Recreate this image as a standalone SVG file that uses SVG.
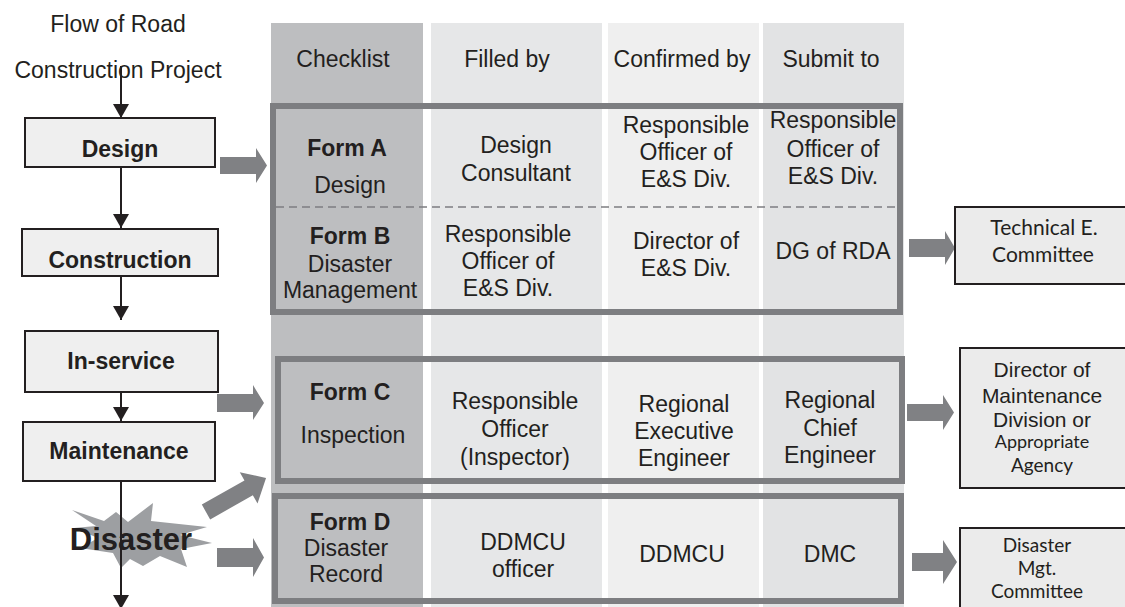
<svg xmlns="http://www.w3.org/2000/svg" width="1125" height="607" viewBox="0 0 1125 607">
<style>
text{font-family:"Liberation Sans",Arial,sans-serif;fill:#231f20;text-anchor:middle;font-size:23px}
.b{font-weight:bold}
.cal{font-family:Lato,"Liberation Sans",sans-serif;font-size:21px}
.flow{fill:#efefef;stroke:#231f20;stroke-width:2}
.frame{fill:none;stroke:#7d7e81;stroke-width:6}
.big{fill:#808184}
.line{stroke:#231f20;stroke-width:2;fill:none}
.rbox{fill:#ebebeb;stroke:#231f20;stroke-width:2}
</style>
<defs>
<marker id="ah" markerWidth="14" markerHeight="16" refX="14" refY="8" orient="auto" markerUnits="userSpaceOnUse"><path d="M0,0 L14,8 L0,16 z" fill="#231f20"/></marker>
</defs>
<rect width="1125" height="607" fill="#ffffff"/>
<g id="title">
<text x="118" y="32">Flow of Road</text>
<text x="118" y="78">Construction Project</text>
</g>
<g id="columns">
<rect x="271" y="23" width="152" height="584" fill="#bdbec0"/>
<rect x="431" y="23" width="171" height="584" fill="#e6e7e8"/>
<rect x="608" y="23" width="151" height="584" fill="#efefef"/>
<rect x="763" y="23" width="141" height="584" fill="#e2e3e4"/>
<text x="343" y="67">Checklist</text>
<text x="507" y="67">Filled by</text>
<text x="682" y="67">Confirmed by</text>
<text x="831" y="67">Submit to</text>
</g>
<g id="connectors">
<line class="line" x1="121" y1="66" x2="121" y2="118" marker-end="url(#ah)"/>
<line class="line" x1="121" y1="167" x2="121" y2="228" marker-end="url(#ah)"/>
<line class="line" x1="121" y1="276" x2="121" y2="320" marker-end="url(#ah)"/>
<line class="line" x1="121" y1="378" x2="121" y2="421" marker-end="url(#ah)"/>
<line class="line" x1="121" y1="481" x2="121" y2="609" marker-end="url(#ah)"/>
<path class="big" d="M220,157 L256,157 L256,148 L267,165.5 L256,183 L256,174 L220,174 z"/>
<path class="big" d="M217,394 L253,394 L253,385 L264,403 L253,420 L253,412 L217,412 z"/>
<path class="big" d="M217,548 L253,548 L253,538 L264,557.5 L253,577 L253,567 L217,567 z"/>
<path class="big" transform="translate(206,512) rotate(-29.5)" d="M0,-8.5 L49,-8.5 L49,-18 L69,0 L49,18 L49,8.5 L0,8.5 z"/>
<path class="big" d="M909,239 L945,239 L945,231 L955,248 L945,265 L945,257 L909,257 z"/>
<path class="big" d="M907,404 L943,404 L943,395 L954,412.5 L943,430 L943,421 L907,421 z"/>
<path class="big" d="M912,553 L943,553 L943,540 L957,562 L943,584 L943,571 L912,571 z"/>
</g>
<g id="design"><rect class="flow" x="25" y="118" width="190" height="49"/><text class="b" x="120" y="157">Design</text></g>
<g id="construction"><rect class="flow" x="22" y="229" width="196" height="47"/><text class="b" x="120" y="268">Construction</text></g>
<g id="in-service"><rect class="flow" x="25" y="331" width="193" height="61"/><text class="b" x="121" y="369">In-service</text></g>
<g id="maintenance"><rect class="flow" x="23" y="422" width="192" height="59"/><text class="b" x="119" y="459">Maintenance</text></g>
<g id="disaster">
<polygon fill="#9d9fa2" points="72,510 104,521 116,512 128,522 153,503 151,521 207,527 180,535 212,543 181,549 187,567 160,556 143,566 130,559 121,568 113,553 80,548 98,538 74,528 96,526"/>
<line class="line" x1="121" y1="500" x2="121" y2="575"/>
<text class="b" x="131" y="550" style="font-size:31px">Disaster</text>
</g>
<g id="form-ab">
<rect class="frame" x="273" y="106" width="627" height="206"/>
<line x1="276" y1="207" x2="897" y2="207" stroke="#7d7e81" stroke-width="1.5" stroke-dasharray="8,5"/>
<text class="b" x="347" y="156">Form A</text>
<text x="350" y="193">Design</text>
<text x="516" y="153">Design</text>
<text x="516" y="181">Consultant</text>
<text x="686" y="133">Responsible</text>
<text x="686" y="160">Officer of</text>
<text x="686" y="187">E&amp;S Div.</text>
<text x="833" y="128">Responsible</text>
<text x="833" y="157">Officer of</text>
<text x="833" y="184">E&amp;S Div.</text>
<text class="b" x="350" y="244">Form B</text>
<text x="350" y="272">Disaster</text>
<text x="350" y="298">Management</text>
<text x="508" y="242">Responsible</text>
<text x="508" y="269">Officer of</text>
<text x="508" y="296">E&amp;S Div.</text>
<text x="686" y="249">Director of</text>
<text x="686" y="276">E&amp;S Div.</text>
<text x="833" y="259">DG of RDA</text>
</g>
<g id="form-c">
<rect class="frame" x="278" y="359" width="624" height="122"/>
<text class="b" x="350" y="400">Form C</text>
<text x="353" y="443">Inspection</text>
<text x="515" y="409">Responsible</text>
<text x="515" y="437">Officer</text>
<text x="515" y="465">(Inspector)</text>
<text x="684" y="412">Regional</text>
<text x="684" y="439">Executive</text>
<text x="684" y="466">Engineer</text>
<text x="830" y="408">Regional</text>
<text x="830" y="436">Chief</text>
<text x="830" y="463">Engineer</text>
</g>
<g id="form-d">
<rect class="frame" x="275" y="496" width="626" height="105"/>
<text class="b" x="350" y="530">Form D</text>
<text x="346" y="556">Disaster</text>
<text x="346" y="582">Record</text>
<text x="523" y="550">DDMCU</text>
<text x="523" y="577">officer</text>
<text x="682" y="562">DDMCU</text>
<text x="830" y="562">DMC</text>
</g>
<g id="technical-committee">
<rect class="rbox" x="955" y="207" width="175" height="77"/>
<text class="cal" x="1044" y="235">Technical E.</text>
<text class="cal" x="1043" y="262">Committee</text>
</g>
<g id="director-maintenance">
<rect class="rbox" x="960" y="348" width="170" height="140"/>
<text x="1042" y="377" style="font-size:21px">Director of</text>
<text x="1042" y="403" style="font-size:21px">Maintenance</text>
<text x="1042" y="427" style="font-size:21px">Division or</text>
<text class="cal" x="1042" y="448" style="font-size:18px">Appropriate</text>
<text class="cal" x="1042" y="472" style="font-size:19px">Agency</text>
</g>
<g id="disaster-committee">
<rect class="rbox" x="960" y="528" width="170" height="90"/>
<text class="cal" x="1037" y="552" style="font-size:19px">Disaster</text>
<text class="cal" x="1037" y="575" style="font-size:19px">Mgt.</text>
<text class="cal" x="1037" y="598" style="font-size:19px">Committee</text>
</g>
</svg>
